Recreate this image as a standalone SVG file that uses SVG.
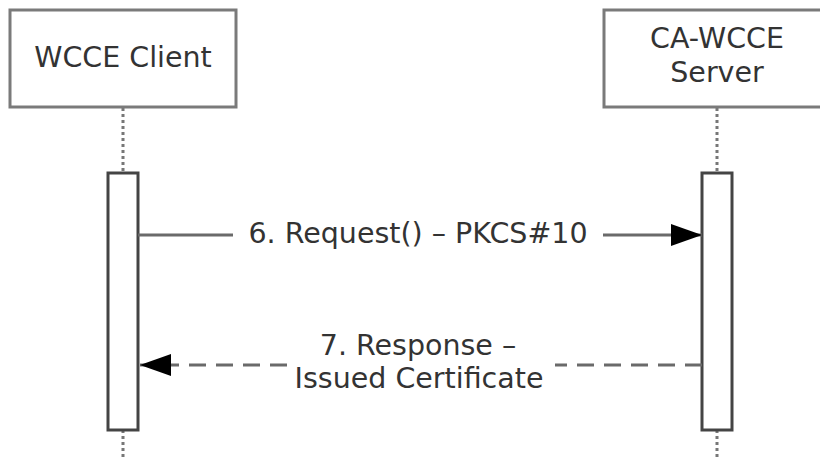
<svg xmlns="http://www.w3.org/2000/svg" width="820" height="460" viewBox="0 0 820 460">
<style>
.box{fill:#fff;stroke:#7a7a7a;stroke-width:3}
.bar{fill:#fff;stroke:#444;stroke-width:3}
.life{stroke:#777;stroke-width:3;stroke-dasharray:3 3;fill:none}
.msg{stroke:#6a6a6a;stroke-width:3;fill:none}
.dash{stroke-dasharray:17 10}
text{font-family:"DejaVu Sans",Verdana,sans-serif;font-size:28.5px;fill:#333;text-anchor:middle}
</style>
<defs>
<marker id="ahb" markerWidth="31" markerHeight="22" refX="31" refY="11" orient="auto" markerUnits="userSpaceOnUse" viewBox="0 0 31 22">
<path d="M0,0 L31,11 L0,22 z" fill="#000"/>
</marker>
</defs>
<g id="lifelines">
<line class="life" x1="123" y1="108" x2="123" y2="173"/>
<line class="life" x1="123" y1="430" x2="123" y2="460"/>
<line class="life" x1="717" y1="108" x2="717" y2="173"/>
<line class="life" x1="717" y1="430" x2="717" y2="460"/>
</g>
<g id="client">
<rect class="box" x="10" y="10" width="226" height="97"/>
<text x="123" y="67">WCCE Client</text>
</g>
<g id="server">
<rect class="box" x="604" y="10" width="226" height="97"/>
<text x="717" y="48">CA-WCCE</text>
<text x="717" y="82">Server</text>
</g>
<g id="client-activation">
<rect class="bar" x="108" y="173" width="30" height="257"/>
</g>
<g id="server-activation">
<rect class="bar" x="702" y="173" width="30" height="257"/>
</g>
<g id="connectors">
<line class="msg" x1="138" y1="235" x2="233" y2="235"/>
<line class="msg" x1="603" y1="235" x2="702" y2="235" marker-end="url(#ahb)"/>
<line class="msg dash" x1="702" y1="365" x2="555" y2="365"/>
<line class="msg dash" x1="287" y1="365" x2="140" y2="365" marker-end="url(#ahb)"/>
<text x="418" y="243">6. Request() – PKCS#10</text>
<text x="418" y="355">7. Response –</text>
<text x="419" y="388">Issued Certificate</text>
</g>
</svg>
